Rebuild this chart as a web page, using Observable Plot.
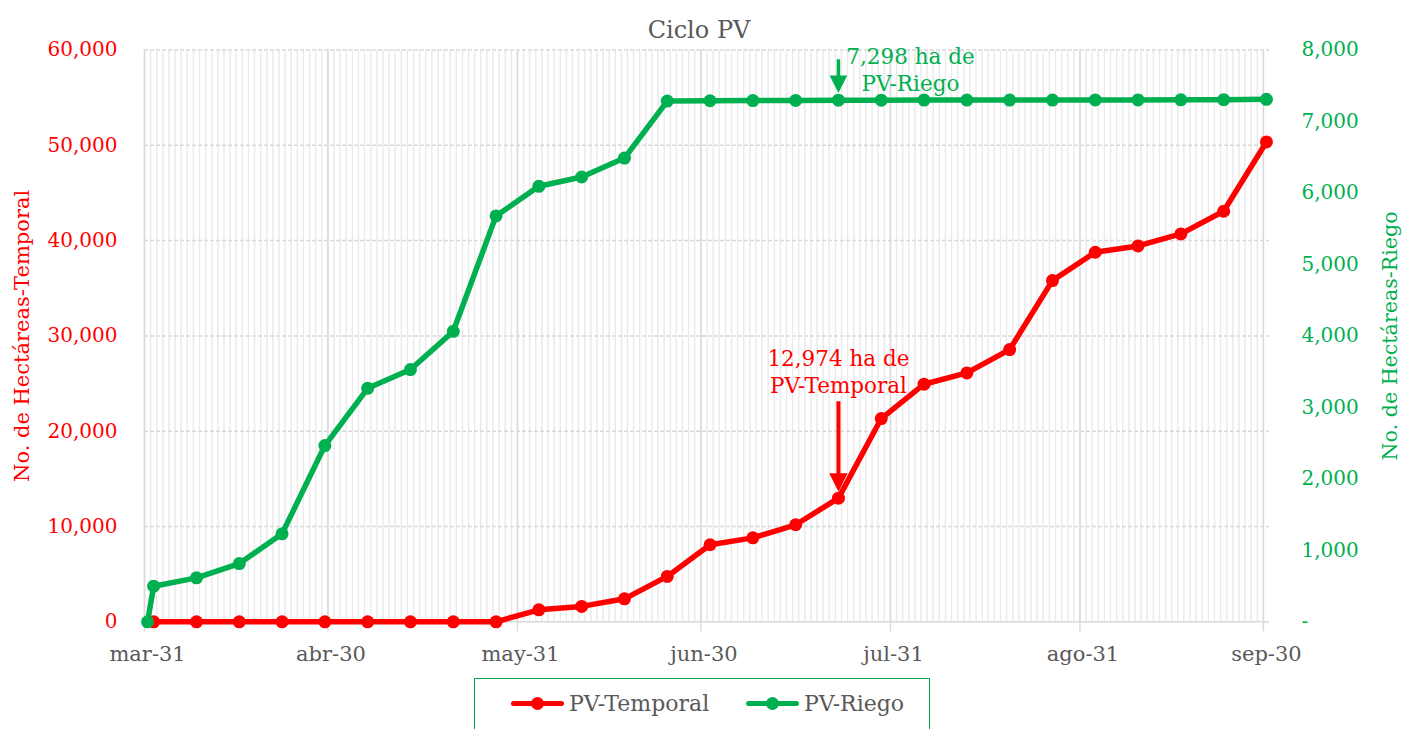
<!DOCTYPE html>
<html>
<head>
<meta charset="utf-8">
<script src="https://cdn.jsdelivr.net/npm/d3@7"></script>
<script src="https://cdn.jsdelivr.net/npm/@observablehq/plot@0.6"></script>
<style>
  body { margin: 0; background: #fff; font-family: "DejaVu Serif", serif; }
  #wrap { position: relative; width: 1406px; height: 729px; overflow: hidden; }
  #legend { position: absolute; left: 474px; top: 678px; width: 456px; height: 70px;
            border: 1.5px solid #00B050; box-sizing: border-box; }
  .item { position: absolute; top: 10px; display: flex; align-items: center; height: 28px;
          font-size: 22px; color: #595959; white-space: nowrap; }
  .sw { position: relative; width: 53px; height: 28px; margin-right: 5px; }
  .sw .ln { position: absolute; left: 0; right: 0; top: 11.5px; height: 5px; border-radius: 3px; }
  .sw .dt { position: absolute; left: 20px; top: 7.5px; width: 13px; height: 13px; border-radius: 50%; }
</style>
</head>
<body>
<div id="wrap">
  <div id="chart"></div>
  <div id="legend"></div>
</div>
<script>
// ---------- Datos ----------
const fechasTemporal = [
  "2021-04-01","2021-04-08","2021-04-15","2021-04-22","2021-04-29",
  "2021-05-06","2021-05-13","2021-05-20","2021-05-27",
  "2021-06-03","2021-06-10","2021-06-17","2021-06-24",
  "2021-07-01","2021-07-08","2021-07-15","2021-07-22","2021-07-29",
  "2021-08-05","2021-08-12","2021-08-19","2021-08-26",
  "2021-09-02","2021-09-09","2021-09-16","2021-09-23","2021-09-30"
];
const valoresTemporal = [
  0, 0, 0, 0, 0,
  0, 0, 0, 0,
  1256, 1617, 2412, 4760,
  8085, 8808, 10181, 12974, 21329,
  24930, 26119, 28566, 35804,
  38776, 39441, 40699, 43077, 50350
];
const fechasRiego = ["2021-03-31", ...fechasTemporal];
const valoresRiego = [
  0,
  498, 615, 815, 1231, 2466,
  3267, 3529, 4064, 5679,
  6093, 6223, 6488, 7285,
  7290, 7292, 7295, 7298, 7298,
  7299, 7299, 7300, 7300,
  7301, 7302, 7303, 7305, 7310
];
const fechasTicks = ["2021-03-31","2021-04-30","2021-05-31","2021-06-30","2021-07-31","2021-08-31","2021-09-30"];
const etiquetasX = ["mar-31","abr-30","may-31","jun-30","jul-31","ago-31","sep-30"];
const ticksIzq = [0, 10000, 20000, 30000, 40000, 50000, 60000];
const ticksDer = [0, 1000, 2000, 3000, 4000, 5000, 6000, 7000, 8000];
const anotTemporal = [{fecha: "2021-07-22", valor: 12974, texto: "12,974 ha de\nPV-Temporal"}];
const anotRiego = [{fecha: "2021-07-22", valor: 7298, texto: "7,298 ha de\nPV-Riego"}];
const series = [
  {nombre: "PV-Temporal", color: "#FF0000"},
  {nombre: "PV-Riego", color: "#00B050"}
];

// ---------- Preparación ----------
const ROJO = "#FF0000", VERDE = "#00B050", GRIS = "#595959", REJILLA = "#D9D9D9";
const factor = 60000 / 8000;
const parse = d3.utcParse("%Y-%m-%d");
const centro = s => d3.utcHour.offset(parse(s), 12);
const fmt = d3.format(",");

const temporal = fechasTemporal.map((f, i) => ({fecha: centro(f), valor: valoresTemporal[i]}));
const riego = fechasRiego.map((f, i) => ({fecha: centro(f), valor: valoresRiego[i] * factor}));
const dias = d3.utcDay.range(parse("2021-03-31"), parse("2021-10-01"));

const linea = {draw(ctx, l) { ctx.moveTo(0, 0); ctx.lineTo(0, -l); }};
const flecha = {draw(ctx, l) {
  const h = 12, w = 6;
  ctx.moveTo(0, 0); ctx.lineTo(0, -l + h);
  ctx.moveTo(-w, -l + h); ctx.lineTo(0, -l); ctx.lineTo(w, -l + h); ctx.closePath();
}};

const chart = Plot.plot({
  width: 1406, height: 672,
  marginLeft: 144, marginRight: 137, marginTop: 49.5, marginBottom: 50.7,
  x: {type: "utc", domain: [parse("2021-03-31"), parse("2021-10-01")], axis: null},
  y: {domain: [0, 60000], axis: null},
  style: {fontFamily: "DejaVu Serif", fontSize: "20px", background: "transparent", overflow: "visible"},
  marks: [
    // rejilla
    Plot.ruleX(dias, {x: d => d, stroke: "#EBEBEB", strokeWidth: 1.5}),
    Plot.ruleX(fechasTicks, {x: parse, stroke: REJILLA, strokeWidth: 1.5}),
    Plot.ruleY(ticksIzq.filter(d => d > 0), {y: d => d, stroke: REJILLA, strokeWidth: 1.5, strokeDasharray: "4,2"}),
    Plot.ruleY([0], {y: d => d, stroke: REJILLA, strokeWidth: 1.5}),
    Plot.vector(fechasTicks, {x: parse, frameAnchor: "bottom", length: 9, rotate: 180, anchor: "start",
      shape: linea, stroke: REJILLA, strokeWidth: 1.5}),
    // ejes (texto)
    Plot.text(ticksIzq, {y: d => d, text: d => fmt(d), frameAnchor: "left", dx: -27, textAnchor: "end",
      fill: ROJO, fontSize: 20}),
    Plot.text(ticksDer, {y: d => d * factor, text: d => d === 0 ? "-" : fmt(d), frameAnchor: "right", dx: 32,
      textAnchor: "start", fill: VERDE, fontSize: 20}),
    Plot.text(fechasTicks, {x: centro, text: (d, i) => etiquetasX[i], frameAnchor: "bottom", dy: 39,
      fill: GRIS, fontSize: 21}),
    Plot.text(["No. de Hectáreas-Temporal"], {text: d => d, frameAnchor: "left", dx: -122, rotate: -90,
      textAnchor: "middle", fill: ROJO, fontSize: 21}),
    Plot.text(["No. de Hectáreas-Riego"], {text: d => d, frameAnchor: "right", dx: 121, rotate: -90,
      textAnchor: "middle", fill: VERDE, fontSize: 20.6}),
    Plot.text(["Ciclo PV"], {text: d => d, frameAnchor: "top", dx: -8, dy: -29, fill: GRIS, fontSize: 24}),
    // series
    Plot.line(temporal, {x: "fecha", y: "valor", stroke: ROJO, strokeWidth: 5.5, strokeLinejoin: "round", strokeLinecap: "round"}),
    Plot.dot(temporal, {x: "fecha", y: "valor", r: 6.5, fill: ROJO}),
    Plot.line(riego, {x: "fecha", y: "valor", stroke: VERDE, strokeWidth: 5.5, strokeLinejoin: "round", strokeLinecap: "round"}),
    Plot.dot(riego, {x: "fecha", y: "valor", r: 6.5, fill: VERDE}),
    // anotaciones
    Plot.vector(anotTemporal, {x: d => centro(d.fecha), y: "valor", length: 86, rotate: 180, anchor: "end", dy: -11,
      shape: flecha, stroke: ROJO, fill: ROJO, strokeWidth: 4, strokeLinejoin: "miter", strokeLinecap: "butt"}),
    Plot.text(anotTemporal, {x: d => centro(d.fecha), y: "valor", text: "texto", dy: -127, lineHeight: 1.25,
      fill: ROJO, fontSize: 21.5}),
    Plot.vector(anotRiego, {x: d => centro(d.fecha), y: d => d.valor * factor, length: 30, rotate: 180, anchor: "end", dy: -11,
      shape: flecha, stroke: VERDE, fill: VERDE, strokeWidth: 3.5, strokeLinejoin: "miter", strokeLinecap: "butt"}),
    Plot.text(anotRiego, {x: d => centro(d.fecha), y: d => d.valor * factor, text: "texto", dx: 72, dy: -31, lineHeight: 1.25,
      fill: VERDE, fontSize: 21.5})
  ]
});
document.getElementById("chart").appendChild(chart);

// ---------- Leyenda ----------
const legend = document.getElementById("legend");
const posiciones = [36, 271];
series.forEach((s, i) => {
  const it = document.createElement("div");
  it.className = "item";
  it.style.left = posiciones[i] + "px";
  it.innerHTML = `<span class="sw"><span class="ln" style="background:${s.color}"></span><span class="dt" style="background:${s.color}"></span></span><span>${s.nombre}</span>`;
  legend.appendChild(it);
});
</script>
</body>
</html>
